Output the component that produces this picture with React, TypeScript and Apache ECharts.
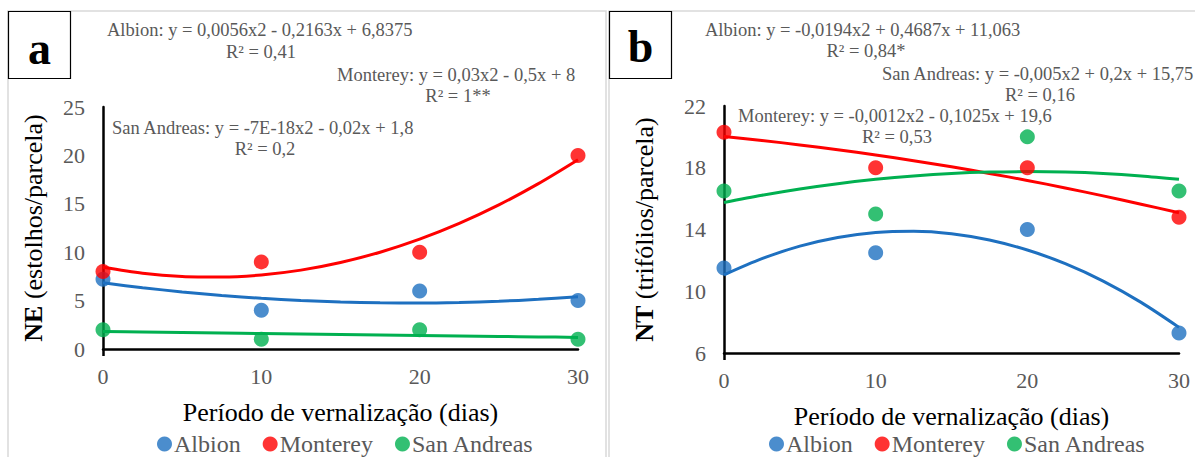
import React, { useEffect, useRef } from 'react';
import * as echarts from 'echarts';

const days = [0, 10, 20, 30];
const curveDays = [0, 2.5, 5, 7.5, 10, 12.5, 15, 17.5, 20, 22.5, 25, 27.5, 30];
const cultivars = ['Albion', 'Monterey', 'San Andreas'];

// Panel a: NE (estolhos/parcela)
const neAlbion = [7.2, 4, 6, 5];
const neMonterey = [8, 9, 10, 20];
const neSanAndreas = [2, 1, 2, 1];
const neAlbionTrend = [6.84, 6.33, 5.9, 5.53, 5.24, 5.01, 4.86, 4.77, 4.75, 4.81, 4.93, 5.13, 5.39];
const neMontereyTrend = [8.45, 7.83, 7.49, 7.43, 7.65, 8.15, 8.94, 10.0, 11.35, 12.98, 14.89, 17.08, 19.55];
const neSanAndreasTrend = [1.8, 1.75, 1.7, 1.65, 1.6, 1.55, 1.5, 1.45, 1.4, 1.35, 1.3, 1.25, 1.2];

// Panel b: NT (trifólios/parcela)
const ntAlbion = [11.5, 12.5, 14, 7.3];
const ntMonterey = [20.3, 18, 18, 14.8];
const ntSanAndreas = [16.5, 15, 20, 16.5];
const ntAlbionTrend = [11.06, 12.11, 12.92, 13.48, 13.81, 13.89, 13.73, 13.32, 12.67, 11.79, 10.66, 9.28, 7.66];
const ntMontereyTrend = [20.03, 19.77, 19.48, 19.17, 18.83, 18.45, 18.06, 17.63, 17.18, 16.69, 16.18, 15.64, 15.08];
const ntSanAndreasTrend = [15.75, 16.22, 16.63, 16.97, 17.25, 17.47, 17.63, 17.72, 17.75, 17.72, 17.63, 17.47, 17.25];

const xTicks = [0, 10, 20, 30];
const neTicks = [0, 5, 10, 15, 20, 25];
const ntTicks = [6, 10, 14, 18, 22];

const eqA = [
  'Albion: y = 0,0056x2 - 0,2163x + 6,8375',
  'R² = 0,41',
  'Monterey: y = 0,03x2 - 0,5x + 8',
  'R² = 1**',
  'San Andreas: y = -7E-18x2 - 0,02x + 1,8',
  'R² = 0,2',
];
const eqB = [
  'Albion: y = -0,0194x2 + 0,4687x + 11,063',
  'R² = 0,84*',
  'San Andreas: y = -0,005x2 + 0,2x + 15,75',
  'R² = 0,16',
  'Monterey: y = -0,0012x2 - 0,1025x + 19,6',
  'R² = 0,53',
];

const COLORS = ['#1E70C0', '#FF0000', '#00B050'];
const FONT = 'Liberation Serif';
const GRAY = '#595959';

const pairs = (xs: number[], ys: number[]) => xs.map((x, i) => [x, ys[i]]);

export default function App() {
  const ref = useRef<HTMLDivElement>(null);
  useEffect(() => {
    document.body.style.margin = '0';
    const chart = echarts.init(ref.current!, null, { renderer: 'svg' });

    const xAxisBase = (gridIndex: number) => ({
      type: 'value',
      gridIndex,
      min: 0,
      max: 30,
      interval: 10,
      name: 'Período de vernalização (dias)',
      nameLocation: 'middle',
      nameGap: 50,
      nameTextStyle: { color: '#000', fontSize: 26, fontFamily: FONT },
      axisLine: { lineStyle: { color: '#000', width: 2.5 } },
      axisTick: { show: true, customValues: [0], length: 7, inside: false, lineStyle: { color: '#000', width: 2.5 } },
      axisLabel: { customValues: xTicks, color: GRAY, fontSize: 22, fontFamily: FONT, margin: 16 },
      splitLine: { show: false },
    });

    const yAxisBase = (gridIndex: number, min: number, max: number, ticks: number[], name: string, gap: number) => ({
      type: 'value',
      gridIndex,
      min,
      max,
      name,
      nameLocation: 'middle',
      nameRotate: 90,
      nameGap: gap,
      nameTextStyle: {
        color: '#000',
        fontSize: 26,
        fontFamily: FONT,
        rich: { b: { fontWeight: 'bold', fontSize: 26, fontFamily: FONT, color: '#000' } },
      },
      axisLine: { show: true, lineStyle: { color: '#000', width: 2.5 } },
      axisTick: { show: false },
      axisLabel: { customValues: ticks, color: GRAY, fontSize: 22, fontFamily: FONT, margin: 18 },
      splitLine: { show: false },
    });

    const mk = (xi: number, pts: number[][], trends: number[][]) => {
      const s: any[] = [];
      trends.forEach((t, i) => {
        s.push({
          type: 'line',
          name: cultivars[i] + ' trend' + xi,
          xAxisIndex: xi,
          yAxisIndex: xi,
          data: pairs(curveDays, t),
          smooth: 0.3,
          showSymbol: false,
          symbol: 'none',
          lineStyle: { color: COLORS[i], width: 3 },
          z: 2,
        });
      });
      pts.forEach((p, i) => {
        s.push({
          type: 'scatter',
          name: cultivars[i],
          xAxisIndex: xi,
          yAxisIndex: xi,
          data: pairs(days, p),
          symbol: 'circle',
          symbolSize: 15,
          itemStyle: { color: COLORS[i] },
          z: 3,
        });
      });
      return s;
    };

    const legendBase = (left: number) => ({
      data: cultivars.map((n) => ({ name: n, icon: 'circle' })),
      left,
      top: 427,
      orient: 'horizontal',
      itemWidth: 15,
      itemHeight: 15,
      itemGap: 22,
      selectedMode: false,
      textStyle: { color: GRAY, fontSize: 24, fontFamily: FONT, padding: [0, 0, 0, -3] },
    });

    const txt = (text: string, x: number, y: number, align: string) => ({
      type: 'text',
      x,
      y,
      style: { text, fill: GRAY, fontSize: 18.5, fontFamily: FONT, textAlign: align, textVerticalAlign: 'middle' },
      z: 10,
    });

    const graphic: any[] = [
      { type: 'rect', shape: { x: 8, y: 11, width: 598, height: 470 }, style: { fill: 'none', stroke: '#d9d9d9', lineWidth: 1.5 }, z: 0 },
      { type: 'rect', shape: { x: 609, y: 11, width: 600, height: 470 }, style: { fill: 'none', stroke: '#d9d9d9', lineWidth: 1.5 }, z: 0 },
      { type: 'rect', shape: { x: 8.5, y: 11.5, width: 62, height: 67 }, style: { fill: '#fff', stroke: '#000', lineWidth: 1.2 }, z: 5 },
      { type: 'rect', shape: { x: 609.5, y: 11.5, width: 62, height: 67 }, style: { fill: '#fff', stroke: '#000', lineWidth: 1.2 }, z: 5 },
      { type: 'text', x: 39.5, y: 48, style: { text: 'a', fill: '#000', fontSize: 46, fontWeight: 'bold', fontFamily: FONT, textAlign: 'center', textVerticalAlign: 'middle' }, z: 6 },
      { type: 'text', x: 640.5, y: 46, style: { text: 'b', fill: '#000', fontSize: 46, fontWeight: 'bold', fontFamily: FONT, textAlign: 'center', textVerticalAlign: 'middle' }, z: 6 },
      txt(eqA[0], 107, 30, 'left'),
      txt(eqA[1], 261, 52, 'center'),
      txt(eqA[2], 337, 75, 'left'),
      txt(eqA[3], 458, 96, 'center'),
      txt(eqA[4], 112, 128, 'left'),
      txt(eqA[5], 265, 149, 'center'),
      txt(eqB[0], 705, 30, 'left'),
      txt(eqB[1], 866, 51, 'center'),
      txt(eqB[2], 882, 74, 'left'),
      txt(eqB[3], 1040, 95, 'center'),
      txt(eqB[4], 738, 116, 'left'),
      txt(eqB[5], 897, 137, 'center'),
    ];

    chart.setOption({
      animation: false,
      backgroundColor: '#fff',
      grid: [
        { left: 103, top: 107, width: 475, height: 242 },
        { left: 724, top: 106, width: 455, height: 247 },
      ],
      xAxis: [xAxisBase(0), xAxisBase(1)],
      yAxis: [
        yAxisBase(0, 0, 25, neTicks, '{b|NE} (estolhos/parcela)', 57),
        yAxisBase(1, 6, 22, ntTicks, '{b|NT} (trifólios/parcela)', 67),
      ],
      legend: [legendBase(152), legendBase(764)],
      series: [
        ...mk(0, [neAlbion, neMonterey, neSanAndreas], [neAlbionTrend, neMontereyTrend, neSanAndreasTrend]),
        ...mk(1, [ntAlbion, ntMonterey, ntSanAndreas], [ntAlbionTrend, ntMontereyTrend, ntSanAndreasTrend]),
      ],
      graphic,
    });
    return () => chart.dispose();
  }, []);
  return <div ref={ref} style={{ width: 1195, height: 457 }} />;
}
